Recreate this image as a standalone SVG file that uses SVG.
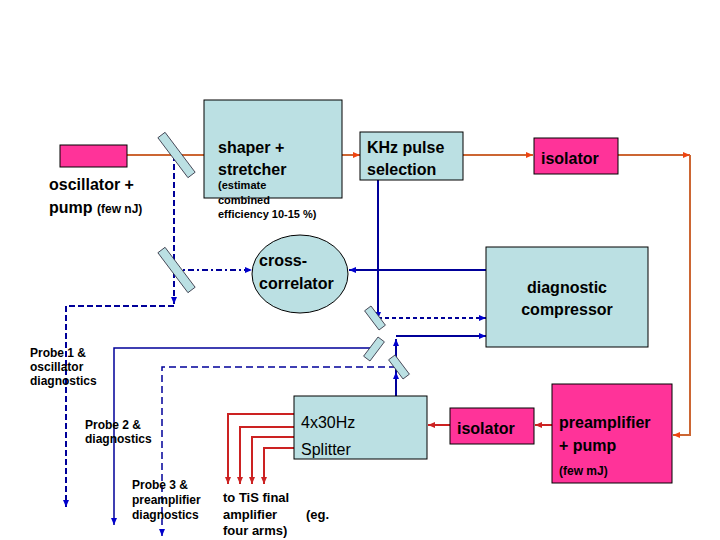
<svg xmlns="http://www.w3.org/2000/svg" width="720" height="540" viewBox="0 0 720 540">
<defs>
<style>
.box{fill:#bbe0e3;stroke:#000;stroke-width:1}
.pink{fill:#ff3399;stroke:#000;stroke-width:1}
.mir{fill:#bbe0e3;stroke:#334;stroke-width:0.8}
.t{font-family:"Liberation Sans",Arial,sans-serif;font-weight:bold;fill:#000}
.b16{font-size:16px}
.s12{font-size:12px}
.or{stroke:#cc6633;stroke-width:2;fill:none}
.rd{stroke:#cc2222;stroke-width:2;fill:none}
.bl{stroke:#000099;stroke-width:2;fill:none}
.bl1{stroke:#000099;stroke-width:1.5;fill:none}
</style>
<marker id="ao" markerWidth="8" markerHeight="8" refX="7" refY="4" orient="auto" markerUnits="userSpaceOnUse"><path d="M0,1L7,4L0,7z" fill="#ee4411"/></marker>
<marker id="ar" markerWidth="8" markerHeight="8" refX="7" refY="4" orient="auto" markerUnits="userSpaceOnUse"><path d="M0,1L7,4L0,7z" fill="#cc2222"/></marker>
<marker id="ab" markerWidth="8" markerHeight="8" refX="7" refY="4" orient="auto" markerUnits="userSpaceOnUse"><path d="M0,1L7,4L0,7z" fill="#0000cc"/></marker>
</defs>
<rect width="720" height="540" fill="#fff"/>
<g id="connectors">
<path class="or" d="M127,155H205"/>
<path class="or" d="M335,155H360" marker-end="url(#ao)"/>
<path class="or" d="M463,155H533" marker-end="url(#ao)"/>
<path class="or" d="M618,155H690" marker-end="url(#ao)"/>
<path class="or" d="M690,155V435H673" marker-end="url(#ao)"/>
<path class="rd" d="M552,425H535" marker-end="url(#ar)"/>
<path class="rd" d="M450,425H428" marker-end="url(#ar)"/>
<path class="rd" d="M590,425H575" stroke-width="1.5"/>
<path class="rd" stroke-width="1.2" d="M294,414H228V484" marker-end="url(#ar)"/>
<path class="rd" stroke-width="1.2" d="M294,427H240V484" marker-end="url(#ar)"/>
<path class="rd" stroke-width="1.2" d="M294,437H252V484" marker-end="url(#ar)"/>
<path class="rd" stroke-width="1.2" d="M294,448H264V484" marker-end="url(#ar)"/>
<path class="bl" d="M174,155V304" stroke-dasharray="6,3" marker-end="url(#ab)"/>
<path class="bl" d="M174,306H66V507" stroke-dasharray="6,3" marker-end="url(#ab)"/>
<path class="bl" d="M174,270H252" stroke-dasharray="6,3,2,3" marker-end="url(#ab)"/>
<path class="bl" d="M378,180V319" marker-end="url(#ab)"/>
<path class="bl" d="M486,270H349" marker-end="url(#ab)"/>
<path class="bl" d="M378,318H486" stroke-dasharray="4,3" marker-end="url(#ab)"/>
<path class="bl" d="M396,396V372" marker-end="url(#ab)"/>
<path class="bl" d="M396,372V339" marker-end="url(#ab)"/>
<path class="bl" d="M396,336H486" marker-end="url(#ab)"/>
<path class="bl1" d="M374,348H114V525" marker-end="url(#ab)"/>
<path class="bl1" d="M396,367H162V536" stroke-dasharray="7,4" marker-end="url(#ab)"/>
</g>
<g id="mirrors">
<rect class="mir" x="172" y="130" width="9" height="50" transform="rotate(-37 176.5 155)"/>
<rect class="mir" x="172" y="245" width="9" height="50" transform="rotate(-37 176.5 270)"/>
<rect class="mir" x="371" y="306" width="8" height="24" transform="rotate(-37 375 318)"/>
<rect class="mir" x="370" y="337" width="8" height="24" transform="rotate(37 374 349)"/>
<rect class="mir" x="395" y="355" width="8" height="24" transform="rotate(-37 399 367)"/>
</g>
<g id="oscillator">
<rect class="pink" x="60" y="145" width="67" height="22"/>
<text class="t b16" x="49" y="190">oscillator +</text>
<text class="t" x="49" y="213"><tspan font-size="16">pump </tspan><tspan font-size="12">(few nJ)</tspan></text>
</g>
<g id="shaper">
<rect class="box" x="204" y="100" width="138" height="98"/>
<text class="t b16" x="218" y="153">shaper +</text>
<text class="t b16" x="218" y="175">stretcher</text>
<text class="t" font-size="11" x="218" y="189">(estimate</text>
<text class="t" font-size="11" x="218" y="204">combined</text>
<text class="t" font-size="11" x="218" y="218">efficiency 10-15 %)</text>
</g>
<g id="khz">
<rect class="box" x="360" y="132" width="103" height="48"/>
<text class="t b16" x="367" y="153">KHz pulse</text>
<text class="t b16" x="367" y="175">selection</text>
</g>
<g id="isolator1">
<rect class="pink" x="534" y="138" width="84" height="36"/>
<text class="t b16" x="541" y="164">isolator</text>
</g>
<g id="crosscorrelator">
<ellipse fill="#bbe0e3" stroke="#000" cx="300" cy="274" rx="48" ry="39"/>
<text class="t b16" x="259" y="266">cross-</text>
<text class="t b16" x="259" y="289">correlator</text>
</g>
<g id="compressor">
<rect class="box" x="486" y="247" width="162" height="100"/>
<text class="t b16" x="567" y="293" text-anchor="middle">diagnostic</text>
<text class="t b16" x="567" y="315" text-anchor="middle">compressor</text>
</g>
<g id="splitter">
<rect class="box" x="294" y="396" width="133" height="63"/>
<text x="301" y="428" font-family="Liberation Sans,Arial,sans-serif" font-size="16">4x30Hz</text>
<text x="301" y="455" font-family="Liberation Sans,Arial,sans-serif" font-size="16">Splitter</text>
</g>
<g id="isolator2">
<rect class="pink" x="450" y="408" width="84" height="36"/>
<text class="t b16" x="457" y="434">isolator</text>
</g>
<g id="preamp">
<rect class="pink" x="552" y="384" width="120" height="99"/>
<text class="t b16" x="559" y="428">preamplifier</text>
<text class="t b16" x="559" y="451">+ pump</text>
<text class="t s12" x="559" y="475">(few mJ)</text>
</g>
<g id="labels">
<text class="t s12" x="30" y="357">Probe 1 &amp;</text>
<text class="t s12" x="30" y="371">oscillator</text>
<text class="t s12" x="30" y="385">diagnostics</text>
<text class="t s12" x="85" y="429">Probe 2 &amp;</text>
<text class="t s12" x="85" y="443">diagnostics</text>
<text class="t s12" x="132" y="489">Probe 3 &amp;</text>
<text class="t s12" x="132" y="504">preamplifier</text>
<text class="t s12" x="132" y="519">diagnostics</text>
<text class="t" font-size="13" x="223" y="502">to TiS final</text>
<text class="t" font-size="13" x="223" y="519">amplifier</text>
<text class="t" font-size="13" x="306" y="519">(eg.</text>
<text class="t" font-size="13" x="223" y="535">four arms)</text>
</g>
</svg>
